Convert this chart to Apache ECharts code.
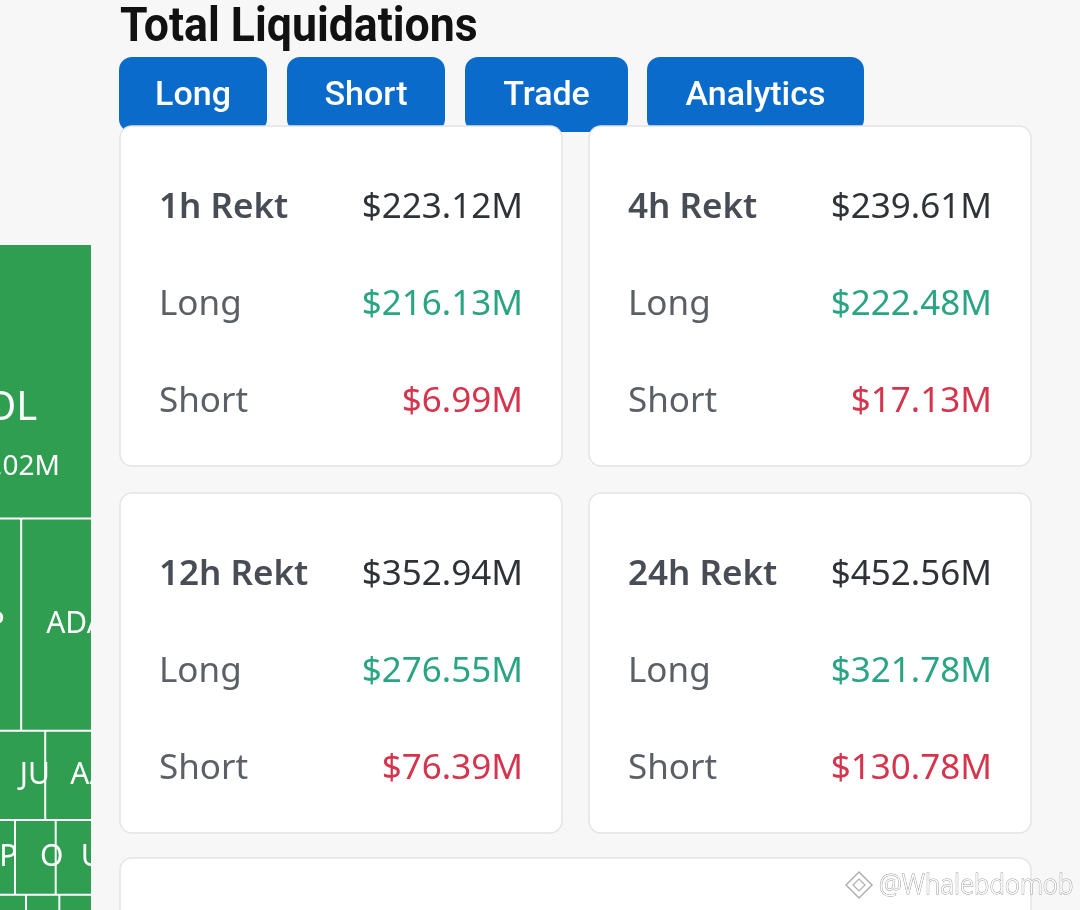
<!DOCTYPE html>
<html>
<head>
<meta charset="utf-8">
<script src="https://cdn.jsdelivr.net/npm/echarts@6/dist/echarts.min.js"></script>
<style>
html,body{margin:0;padding:0;background:#f7f7f7;}
#c{width:1080px;height:910px;}
</style>
</head>
<body>
<div id="c"></div>
<script>
// ---- data ----
const titleText = 'Total Liquidations';
const tabs = ['Long', 'Short', 'Trade', 'Analytics'];
const periods = ['1h', '4h', '12h', '24h'];
const totalRekt = [223.12, 239.61, 352.94, 452.56];
const longRekt = [216.13, 222.48, 276.55, 321.78];
const shortRekt = [6.99, 17.13, 76.39, 130.78];
const rowLabels = ['Long', 'Short'];
const coins = ['SOL', 'OP', 'ADA', 'BNB', 'JUP', 'AAVE', 'XRP', 'ONDO', 'UNI', 'SUI', 'WIF', 'LINK', 'DOGE', 'AVAX', 'PEPE', 'LTC', 'TRX'];
const coinLiq = [9.02, 3.77, 3.21, 1.08, 0.96, 0.89, 1.23, 0.65, 0.58, 1.32, 0.50, 0.49, 1.65, 1.30, 1.08, 0.87, 0.65];
const watermark = '@Whalebdomob';

// ---- layout / style constants ----
const BG = '#f7f7f7';
const BLUE = '#0b6bcb';
const GREEN = '#2aa584';
const RED = '#d6344d';
const TILE = '#2f9e50';
const fmt = v => '$' + v.toFixed(2) + 'M';

const chart = echarts.init(document.getElementById('c'));

const graphics = [];
// title
graphics.push({
  type: 'text', x: 120, y: 29, scaleX: 0.91, z: 30,
  style: { text: titleText, fill: '#111111', fontFamily: 'Roboto', fontWeight: 700, fontSize: 49, align: 'left', verticalAlign: 'middle' }
});
// tabs
const tabBoxes = [[119, 148], [287, 158], [465, 163], [647, 217]];
tabs.forEach((t, i) => {
  const [bx, bw] = tabBoxes[i];
  graphics.push({ type: 'rect', z: 10, shape: { x: bx, y: 57, width: bw, height: 75, r: 13 }, style: { fill: BLUE } });
  graphics.push({
    type: 'text', z: 11, x: bx + bw / 2, y: 96,
    style: { text: t, fill: '#ffffff', fontFamily: 'Roboto', fontWeight: 500, fontSize: 34, align: 'center', verticalAlign: 'middle' }
  });
});
// cards
const cardOrigins = [[120, 126], [589, 126], [120, 493], [589, 493]];
const cardW = 442, cardH = 340;
periods.forEach((p, i) => {
  const [cx, cy] = cardOrigins[i];
  graphics.push({ type: 'rect', z: 20, shape: { x: cx, y: cy, width: cardW, height: cardH, r: 12 }, style: { fill: '#ffffff', stroke: '#e4e4e4', lineWidth: 1.5 } });
  const lines = [
    [p + ' Rekt', totalRekt[i], '#484d55', '#2f3338', 600],
    [rowLabels[0], longRekt[i], '#5b6067', GREEN, 400],
    [rowLabels[1], shortRekt[i], '#5b6067', RED, 400]
  ];
  lines.forEach((ln, k) => {
    const yy = cy + 82 + k * 97;
    graphics.push({ type: 'text', z: 30, x: cx + 39, y: yy,
      style: { text: ln[0], fill: ln[2], fontFamily: 'Noto Sans', fontWeight: ln[4], fontSize: 35, align: 'left', verticalAlign: 'middle' } });
    graphics.push({ type: 'text', z: 30, x: cx + 403, y: yy,
      style: { text: fmt(ln[1]), fill: ln[3], fontFamily: 'Noto Sans', fontWeight: 400, fontSize: 35, align: 'right', verticalAlign: 'middle' } });
  });
});
// bottom card (partially visible)
graphics.push({ type: 'rect', z: 20, shape: { x: 120, y: 858, width: 911, height: 120, r: 12 }, style: { fill: '#ffffff', stroke: '#e4e4e4', lineWidth: 1.5 } });
// overlay that clips the heatmap panel
graphics.push({ type: 'rect', z: 15, shape: { x: 91, y: 230, width: 28, height: 700 }, style: { fill: BG } });
// watermark
graphics.push({ type: 'polygon', z: 40, shape: { points: [[859, 872], [872, 885], [859, 898], [846, 885]] }, style: { fill: 'none', stroke: '#b0b0b0', lineWidth: 1.5 } });
graphics.push({ type: 'polygon', z: 40, shape: { points: [[859, 879], [865, 885], [859, 891], [853, 885]] }, style: { fill: 'none', stroke: '#b0b0b0', lineWidth: 1.2 } });
graphics.push({ type: 'text', z: 40, x: 879, y: 886, scaleX: 0.95,
  style: { text: watermark, fill: '#ffffff', stroke: '#9a9a9a', lineWidth: 1, fontFamily: 'Noto Sans', fontWeight: 300, fontSize: 27, align: 'left', verticalAlign: 'middle' } });

const treeData = coins.map((c, i) => {
  const item = { name: c, value: coinLiq[i] };
  if (i === 0) {
    item.label = {
      position: [24, 135], align: 'left', verticalAlign: 'top',
      formatter: '{n|' + c + '}\n{v|' + fmt(coinLiq[i]) + '}',
      rich: {
        n: { fontSize: 40, lineHeight: 58, color: '#ffffff', fontFamily: 'Noto Sans' },
        v: { fontSize: 28, lineHeight: 58, color: '#ffffff', fontFamily: 'Noto Sans' }
      }
    };
  }
  return item;
});

chart.setOption({
  backgroundColor: BG,
  animation: false,
  graphic: { elements: graphics },
  series: [{
    type: 'treemap',
    left: -61, top: 245, width: 152, height: 888,
    roam: false, nodeClick: false, sort: false,
    breadcrumb: { show: false },
    color: [TILE],
    itemStyle: { color: TILE, borderColor: '#ffffff', borderWidth: 0, gapWidth: 2 },
    levels: [
      { color: [TILE], itemStyle: { borderColor: '#ffffff', borderWidth: 0, gapWidth: 2 } },
      { itemStyle: { color: TILE } }
    ],
    upperLabel: { show: false },
    label: { show: true, position: [24, '50%'], align: 'left', verticalAlign: 'middle', padding: 0, color: '#ffffff', fontSize: 30, fontFamily: 'Noto Sans', overflow: 'truncate', ellipsis: '' },
    emphasis: { disabled: true },
    data: treeData
  }]
});
</script>
</body>
</html>
